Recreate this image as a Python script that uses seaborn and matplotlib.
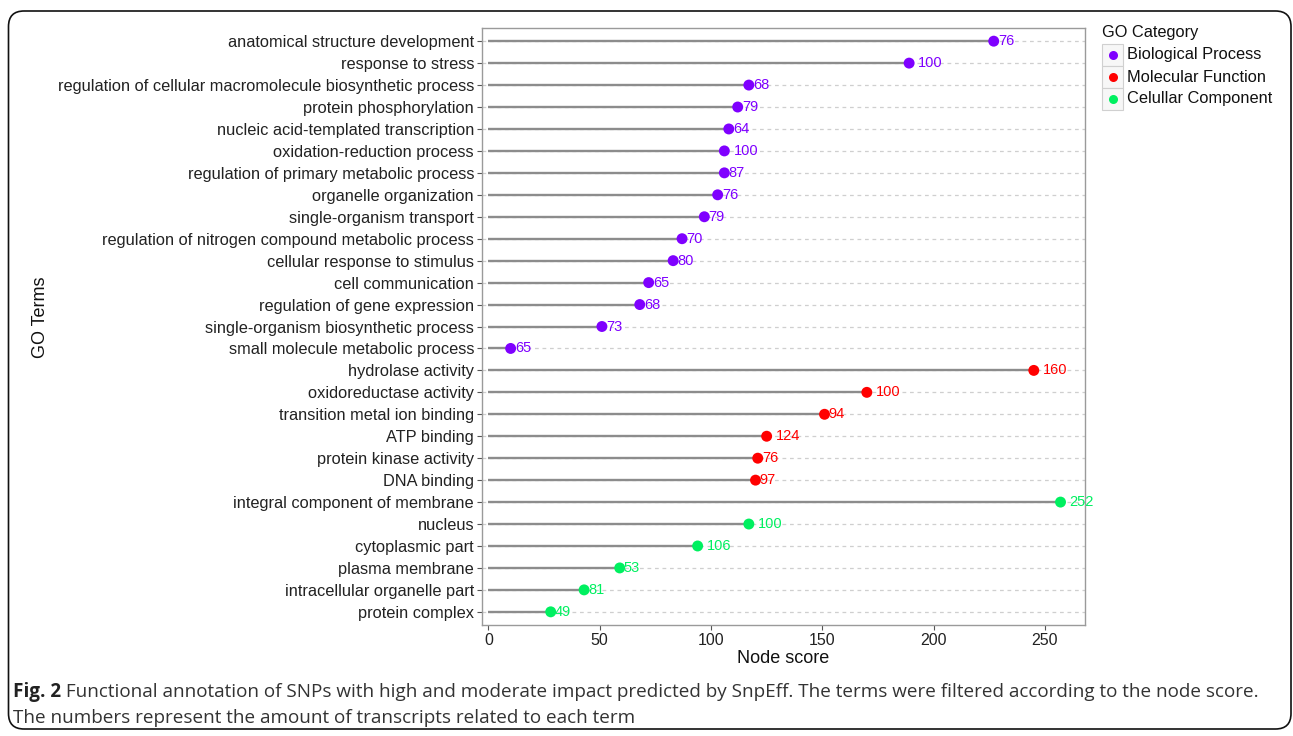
import numpy as np
import pandas as pd
import matplotlib
matplotlib.use("Agg")
import matplotlib.pyplot as plt
from matplotlib.patches import FancyBboxPatch, Rectangle
from matplotlib.lines import Line2D
from matplotlib import font_manager
import seaborn as sns

# GO terms, top to bottom
terms = [
    "anatomical structure development",
    "response to stress",
    "regulation of cellular macromolecule biosynthetic process",
    "protein phosphorylation",
    "nucleic acid-templated transcription",
    "oxidation-reduction process",
    "regulation of primary metabolic process",
    "organelle organization",
    "single-organism transport",
    "regulation of nitrogen compound metabolic process",
    "cellular response to stimulus",
    "cell communication",
    "regulation of gene expression",
    "single-organism biosynthetic process",
    "small molecule metabolic process",
    "hydrolase activity",
    "oxidoreductase activity",
    "transition metal ion binding",
    "ATP binding",
    "protein kinase activity",
    "DNA binding",
    "integral component of membrane",
    "nucleus",
    "cytoplasmic part",
    "plasma membrane",
    "intracellular organelle part",
    "protein complex",
]

# node score of each term
node_score = [
    227, 189, 117, 112, 108, 106, 106, 103, 97, 87, 83, 72, 68, 51, 10,
    245, 170, 151, 125, 121, 120,
    257, 117, 94, 59, 43, 28,
]

# number of transcripts related to each term
transcripts = [
    76, 100, 68, 79, 64, 100, 87, 76, 79, 70, 80, 65, 68, 73, 65,
    160, 100, 94, 124, 76, 97,
    252, 100, 106, 53, 81, 49,
]

categories = ["Biological Process"] * 15 + ["Molecular Function"] * 6 + ["Celullar Component"] * 6
category_order = ["Biological Process", "Molecular Function", "Celullar Component"]
category_colors = ["#7F00FF", "#FF0000", "#00F060"]

x_ticks = [0, 50, 100, 150, 200, 250]

df = pd.DataFrame({
    "term": terms,
    "score": node_score,
    "n": transcripts,
    "category": categories,
})
df["pos"] = np.arange(len(df))

sns.set_theme(style="white")
plt.rcParams["font.family"] = ["Liberation Sans", "DejaVu Sans"]

fig = plt.figure(figsize=(12.93, 7.36), dpi=100)
W, H = 1293, 736

def fx(px):
    return px / W

def fy(py):
    return 1 - py / H

ax = fig.add_axes([fx(481.7), fy(625), fx(1085) - fx(481.7), fy(28) - fy(625)])

# dashed horizontal guides for every term
for p in df["pos"]:
    ax.axhline(p, color="#CFCFCF", lw=0.9, ls=(0, (3, 3)), zorder=0)

# stems from zero to the node score
ax.hlines(df["pos"], 0, df["score"], color="#8C8C8C", lw=1.7, zorder=1)

palette = dict(zip(category_order, category_colors))
sns.scatterplot(data=df, x="score", y="pos", hue="category", hue_order=category_order,
                palette=palette, s=62, edgecolor="none", legend=False, ax=ax, zorder=3)

# transcript counts next to each point
for _, r in df.iterrows():
    label = str(r["n"])
    dx = 3.5 if r["n"] >= 100 else 0
    ax.annotate(label, (r["score"], r["pos"]), xytext=(3 + dx, 0), textcoords="offset points",
                ha="left", va="center", fontsize=10.5, color=palette[r["category"]], zorder=4)

ax.set_xlim(-3, 268)
ax.set_ylim(len(df) - 0.4, -0.6)
ax.set_yticks(df["pos"])
ax.set_yticklabels(df["term"], fontsize=11.8, color="#222222")
ax.set_xticks(x_ticks)
ax.set_xticklabels([str(t) for t in x_ticks], fontsize=11.5, color="#222222")
ax.tick_params(axis="both", which="both", length=3.5, width=0.8, color="#555555",
               left=True, bottom=True, pad=2)
ax.set_xlabel("Node score", fontsize=13, color="#111111", labelpad=2)
ax.set_ylabel("GO Terms", fontsize=13, color="#111111")
ax.yaxis.set_label_coords(-0.718, 0.515)
for s in ax.spines.values():
    s.set_color("#9A9A9A")
    s.set_linewidth(1.0)
ax.grid(False)

# legend drawn as keyed boxes
fig.text(fx(1102), fy(33), "GO Category", fontsize=11.8, color="#111111", ha="left", va="center")
for i, (name, col) in enumerate(zip(category_order, category_colors)):
    cy = 55 + i * 22
    fig.patches.append(Rectangle((fx(1102), fy(cy + 10.5)), fx(21), fy(0) - fy(21),
                                 transform=fig.transFigure, facecolor="#F7F7F7",
                                 edgecolor="#D0D0D0", lw=0.8))
    fig.add_artist(Line2D([fx(1112.5)], [fy(cy)], marker="o", markersize=6.5, color=col,
                          markeredgewidth=0, transform=fig.transFigure))
    fig.text(fx(1127), fy(cy), name, fontsize=11.8, color="#111111", ha="left", va="center")

# caption frame
frame = FancyBboxPatch((fx(8.5), fy(729)), fx(1291) - fx(8.5), fy(11) - fy(729),
                       boxstyle="round,pad=0,rounding_size=0.012", transform=fig.transFigure,
                       facecolor="none", edgecolor="#111111", lw=1.2, mutation_aspect=W / H)
fig.patches.append(frame)

names = {f.name for f in font_manager.fontManager.ttflist}
cap_font = "Liberation Sans Narrow" if "Liberation Sans Narrow" in names else "Open Sans"
cap_size = 15.5 if cap_font == "Liberation Sans Narrow" else 13.6

cap1a = "Fig. 2"
cap1b = (" Functional annotation of SNPs with high and moderate impact predicted by SnpEff. "
         "The terms were filtered according to the node score.")
cap2 = "The numbers represent the amount of transcripts related to each term"

t1 = fig.text(fx(13), fy(692), cap1a, fontsize=cap_size, fontweight="bold", family=cap_font,
              color="#222222", ha="left", va="center")
fig.canvas.draw()
bb = t1.get_window_extent()
fig.text(bb.x1 / (W), fy(692), cap1b, fontsize=cap_size, family=cap_font,
         color="#333333", ha="left", va="center")
fig.text(fx(13), fy(718), cap2, fontsize=cap_size, family=cap_font,
         color="#333333", ha="left", va="center")

fig.savefig("out.png", dpi=100, facecolor="white")
